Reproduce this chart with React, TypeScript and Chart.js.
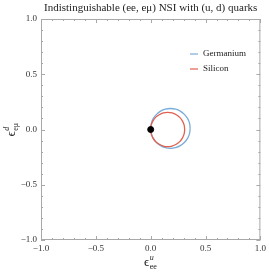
import React, { useEffect, useRef } from 'react';
import { Chart, registerables } from 'chart.js';

Chart.register(...registerables);

const TITLE = 'Indistinguishable (ee, eμ) NSI with (u, d) quarks';
const seriesLabels = ['Germanium', 'Silicon'];
const seriesColors = ['#79acd9', '#e2604f'];

const germaniumX = [0.36, 0.354, 0.336, 0.307, 0.27, 0.227, 0.18, 0.133, 0.09, 0.053, 0.024, 0.006, 0, 0.006, 0.024, 0.053, 0.09, 0.133, 0.18, 0.227, 0.27, 0.307, 0.336, 0.354, 0.36];
const germaniumY = [0.01, 0.057, 0.1, 0.137, 0.166, 0.184, 0.19, 0.184, 0.166, 0.137, 0.1, 0.057, 0.01, -0.037, -0.08, -0.117, -0.146, -0.164, -0.17, -0.164, -0.146, -0.117, -0.08, -0.037, 0.01];
const siliconX = [0.31, 0.305, 0.289, 0.265, 0.233, 0.195, 0.155, 0.115, 0.078, 0.045, 0.021, 0.005, 0, 0.005, 0.021, 0.045, 0.078, 0.115, 0.155, 0.195, 0.233, 0.265, 0.289, 0.305, 0.31];
const siliconY = [0, 0.04, 0.078, 0.11, 0.134, 0.15, 0.155, 0.15, 0.134, 0.11, 0.078, 0.04, 0, -0.04, -0.078, -0.11, -0.134, -0.15, -0.155, -0.15, -0.134, -0.11, -0.078, -0.04, 0];
const markerX = [0];
const markerY = [0];

const majorTicks = [-1, -0.5, 0, 0.5, 1];
const minorTicks = [-0.9, -0.8, -0.7, -0.6, -0.4, -0.3, -0.2, -0.1, 0.1, 0.2, 0.3, 0.4, 0.6, 0.7, 0.8, 0.9];

const SERIF = '"Liberation Serif", "Times New Roman", serif';

function toPoints(xs: number[], ys: number[]) {
  return xs.map((x, i) => ({ x, y: ys[i] }));
}

function fmt(v: number) {
  const s = Math.abs(v).toFixed(1);
  return v < 0 ? '\u2212' + s : s;
}

function drawSym(ctx: CanvasRenderingContext2D, main: string, sup: string, sub: string) {
  ctx.font = `13px ${SERIF}`;
  const mw = ctx.measureText(main).width;
  ctx.font = `italic 8px ${SERIF}`;
  const supW = ctx.measureText(sup).width;
  ctx.font = `8px ${SERIF}`;
  const subW = ctx.measureText(sub).width;
  const total = mw + Math.max(supW, subW) + 1;
  const x0 = -total / 2;
  ctx.fillStyle = '#222';
  ctx.textBaseline = 'alphabetic';
  ctx.textAlign = 'left';
  ctx.font = `13px ${SERIF}`;
  ctx.fillText(main, x0, 0);
  ctx.font = `italic 8px ${SERIF}`;
  ctx.fillText(sup, x0 + mw + 0.5, -6);
  ctx.font = `8px ${SERIF}`;
  ctx.fillText(sub, x0 + mw + 0.5, 3);
}

const decorPlugin = {
  id: 'decor',
  afterDraw(chart: any) {
    const ctx = chart.ctx as CanvasRenderingContext2D;
    const { left, right, top, bottom } = chart.chartArea;
    const xs = chart.scales.x;
    const ys = chart.scales.y;
    ctx.save();
    ctx.strokeStyle = '#a8a8a8';
    ctx.lineWidth = 1;
    ctx.strokeRect(left + 0.5, top + 0.5, right - left - 1, bottom - top - 1);
    const drawTicks = (vals: number[], len: number) => {
      ctx.beginPath();
      vals.forEach((v) => {
        const px = Math.round(xs.getPixelForValue(v)) + 0.5;
        ctx.moveTo(px, bottom);
        ctx.lineTo(px, bottom - len);
        ctx.moveTo(px, top);
        ctx.lineTo(px, top + len);
        const py = Math.round(ys.getPixelForValue(v)) + 0.5;
        ctx.moveTo(left, py);
        ctx.lineTo(left + len, py);
        ctx.moveTo(right, py);
        ctx.lineTo(right - len, py);
      });
      ctx.stroke();
    };
    drawTicks(majorTicks, 4);
    drawTicks(minorTicks, 2);

    ctx.fillStyle = '#222';
    ctx.font = `11px ${SERIF}`;
    ctx.textAlign = 'center';
    ctx.textBaseline = 'middle';
    ctx.fillText(TITLE, (left + right) / 2, 8);

    const ds = chart.data.datasets.slice(0, 2);
    ds.forEach((d: any, i: number) => {
      const y = 54 + i * 15;
      ctx.strokeStyle = d.borderColor;
      ctx.lineWidth = 1.2;
      ctx.beginPath();
      ctx.moveTo(190, y);
      ctx.lineTo(198, y);
      ctx.stroke();
      ctx.fillStyle = '#222';
      ctx.font = `9px ${SERIF}`;
      ctx.textAlign = 'left';
      ctx.textBaseline = 'middle';
      ctx.fillText(d.label, 203, y);
    });

    ctx.save();
    ctx.translate((left + right) / 2, 266);
    drawSym(ctx, '\u03F5', 'u', 'ee');
    ctx.restore();
    ctx.save();
    ctx.translate(15, (top + bottom) / 2);
    ctx.rotate(-Math.PI / 2);
    drawSym(ctx, '\u03F5', 'd', 'e\u03BC');
    ctx.restore();
    ctx.restore();
  },
};

export default function App() {
  const ref = useRef<HTMLCanvasElement | null>(null);
  useEffect(() => {
    if (!ref.current) return;
    const chart = new Chart(ref.current, {
      type: 'scatter',
      data: {
        datasets: [
          {
            label: seriesLabels[0],
            data: toPoints(germaniumX, germaniumY),
            showLine: true,
            borderColor: seriesColors[0],
            backgroundColor: seriesColors[0],
            borderWidth: 1.3,
            pointRadius: 0,
            tension: 0.4,
            order: 2,
          },
          {
            label: seriesLabels[1],
            data: toPoints(siliconX, siliconY),
            showLine: true,
            borderColor: seriesColors[1],
            backgroundColor: seriesColors[1],
            borderWidth: 1.3,
            pointRadius: 0,
            tension: 0.4,
            order: 1,
          },
          {
            label: 'origin',
            data: toPoints(markerX, markerY),
            showLine: false,
            pointRadius: 3,
            backgroundColor: '#000',
            borderColor: '#000',
            order: 0,
          },
        ],
      },
      options: {
        responsive: false,
        animation: false,
        layout: { padding: { left: 0, right: 7, top: 19, bottom: 0 } },
        plugins: {
          legend: { display: false },
          title: { display: false },
          tooltip: { enabled: false },
        },
        scales: {
          x: {
            type: 'linear',
            min: -1,
            max: 1,
            grid: { display: false, drawTicks: false, tickLength: 0 },
            border: { display: false },
            afterFit: (s: any) => {
              s.height = 33;
            },
            afterBuildTicks: (s: any) => {
              s.ticks = majorTicks.map((v) => ({ value: v }));
            },
            ticks: {
              padding: 3,
              maxRotation: 0,
              color: '#333',
              font: { family: SERIF, size: 9 },
              callback: (v: any) => fmt(Number(v)),
            },
          },
          y: {
            type: 'linear',
            min: -1,
            max: 1,
            grid: { display: false, drawTicks: false, tickLength: 0 },
            border: { display: false },
            afterFit: (s: any) => {
              s.width = 41;
            },
            afterBuildTicks: (s: any) => {
              s.ticks = majorTicks.map((v) => ({ value: v }));
            },
            ticks: {
              padding: 4,
              color: '#333',
              font: { family: SERIF, size: 9 },
              callback: (v: any) => fmt(Number(v)),
            },
          },
        },
      },
      plugins: [decorPlugin],
    } as any);
    return () => chart.destroy();
  }, []);

  return (
    <div style={{ position: 'fixed', left: 0, top: 0, width: 269, height: 273, background: '#fff' }}>
      <canvas ref={ref} width={269} height={273} style={{ display: 'block' }} />
    </div>
  );
}
